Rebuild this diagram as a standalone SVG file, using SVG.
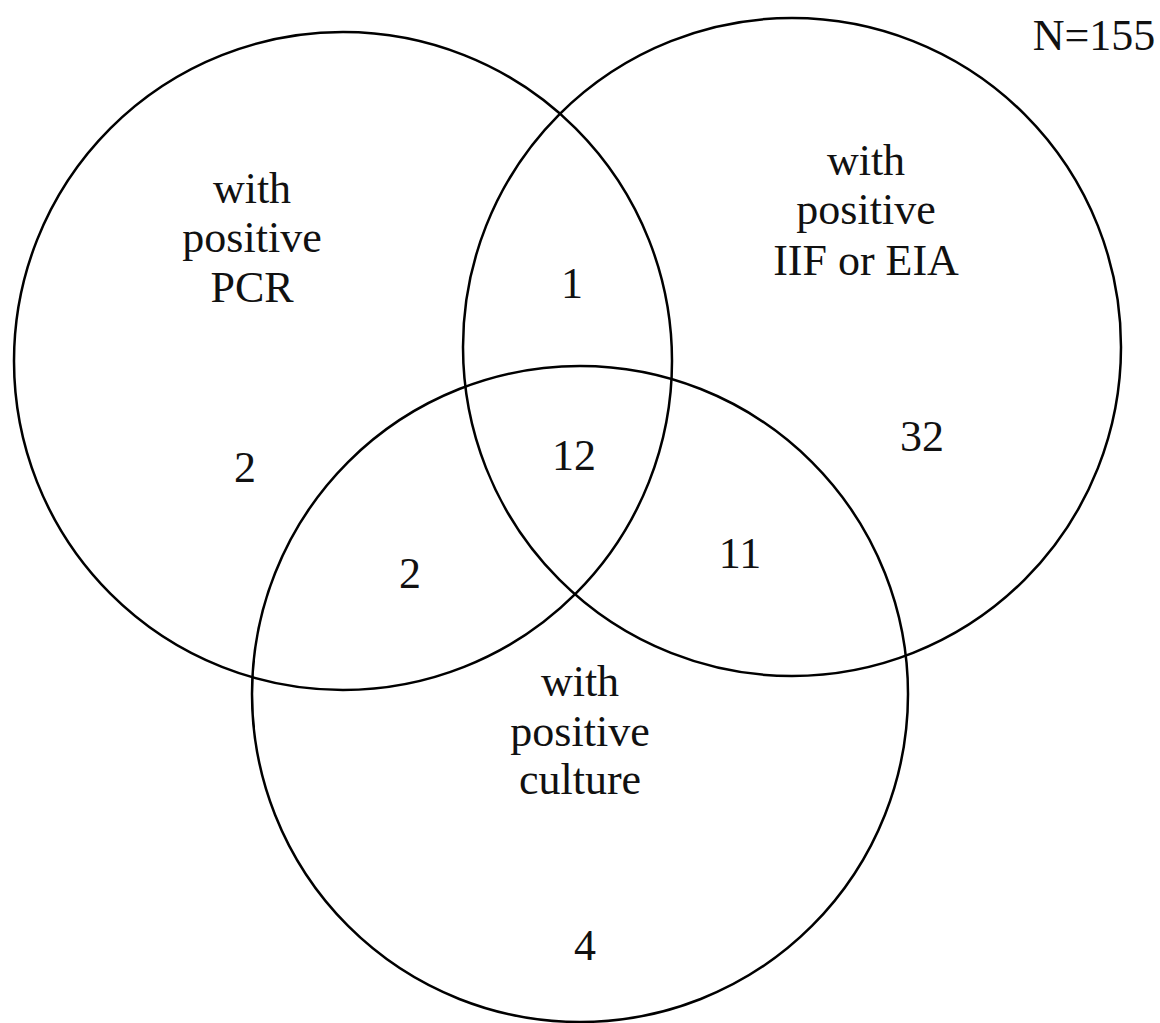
<svg xmlns="http://www.w3.org/2000/svg" width="1160" height="1023" viewBox="0 0 1160 1023">
<style>
.c{fill:none;stroke:#000;stroke-width:2.5}
text{font-family:"Liberation Serif","Times New Roman",serif;font-size:44px;fill:#111;text-anchor:middle}
</style>
<rect width="1160" height="1023" fill="#fff"/>
<g id="pcr"><circle class="c" cx="343" cy="361" r="329"/>
<text x="252" y="203">with</text><text x="252" y="252">positive</text><text x="252" y="302">PCR</text></g>
<g id="iif"><circle class="c" cx="792" cy="347" r="329"/>
<text x="866" y="175">with</text><text x="866" y="224">positive</text><text x="866" y="275">IIF or EIA</text></g>
<g id="culture"><circle class="c" cx="580" cy="694" r="328"/>
<text x="580" y="696">with</text><text x="580" y="746">positive</text><text x="580" y="794">culture</text></g>
<g id="counts">
<text x="245" y="482">2</text>
<text x="572" y="298">1</text>
<text x="574" y="470">12</text>
<text x="410" y="588">2</text>
<text x="740" y="568">11</text>
<text x="922" y="451">32</text>
<text x="585" y="960">4</text>
<text x="1094" y="50">N=155</text>
</g>
<g id="connectors"/>
</svg>
